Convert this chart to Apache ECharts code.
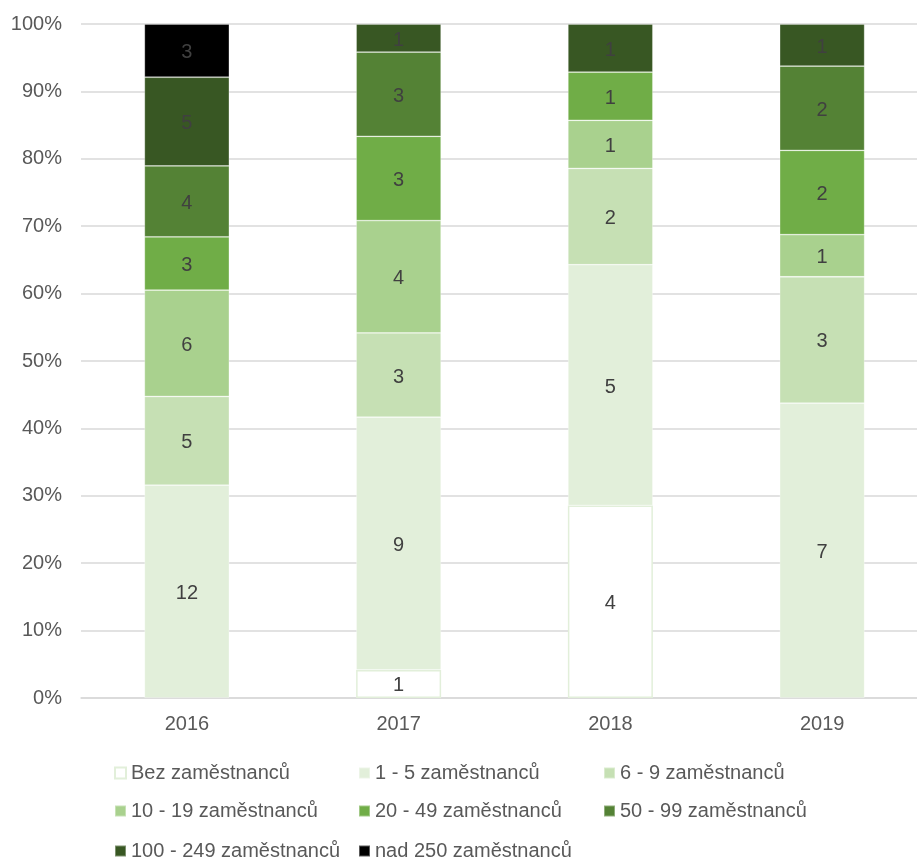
<!DOCTYPE html>
<html>
<head>
<meta charset="utf-8">
<style>
    html, body { margin: 0; padding: 0; background: #fff; }
    #main { width: 917px; height: 859px; }
</style>
</head>
<body>
<div id="main"></div>
<script src="https://cdn.jsdelivr.net/npm/echarts@6/dist/echarts.min.js"></script>
<script>
    var years = ['2016', '2017', '2018', '2019'];
    var groups = ['Bez zaměstnanců', '1 - 5 zaměstnanců', '6 - 9 zaměstnanců', '10 - 19 zaměstnanců',
        '20 - 49 zaměstnanců', '50 - 99 zaměstnanců', '100 - 249 zaměstnanců', 'nad 250 zaměstnanců'];
    var bez = [0, 1, 4, 0];
    var z1_5 = [12, 9, 5, 7];
    var z6_9 = [5, 3, 2, 3];
    var z10_19 = [6, 4, 1, 1];
    var z20_49 = [3, 3, 1, 2];
    var z50_99 = [4, 3, 0, 2];
    var z100_249 = [5, 1, 1, 1];
    var nad250 = [3, 0, 0, 0];
    var yTicks = [0, 10, 20, 30, 40, 50, 60, 70, 80, 90, 100];

    var counts = [bez, z1_5, z6_9, z10_19, z20_49, z50_99, z100_249, nad250];
    var colors = ['#ffffff', '#e2efda', '#c6e0b4', '#a9d18e', '#70ad47', '#548235', '#385723', '#000000'];

    // soucty za rok pro prepocet na procenta
    var totals = years.map(function (y, i) {
        var s = 0;
        counts.forEach(function (c) { s += c[i]; });
        return s;
    });

    var series = counts.map(function (c, k) {
        return {
            name: groups[k],
            type: 'bar',
            stack: 'all',
            barWidth: 85,
            itemStyle: {
                color: colors[k],
                borderColor: k === 0 ? '#e2efda' : 'rgba(255,255,255,0.35)',
                borderWidth: k === 0 ? 1.5 : 0.8
            },
            label: {
                show: true,
                position: 'inside',
                color: '#404040',
                fontSize: 20,
                fontFamily: 'Liberation Sans',
                offset: [0, 2],
                formatter: function (p) { return p.data.count ? p.data.count : ''; }
            },
            data: c.map(function (v, i) {
                return v ? { value: v / totals[i] * 100, count: v } : { value: '-', count: 0 };
            })
        };
    });

    // legenda ve sloupcich jako v Excelu
    var legendPos = [[114, 763], [358, 763], [603, 763], [114, 801], [358, 801], [603, 801], [114, 841], [358, 841]];
    var legends = groups.map(function (g, k) {
        return {
            left: legendPos[k][0],
            top: legendPos[k][1],
            data: [{
                name: g,
                itemStyle: k === 0 ? { color: '#fff', borderColor: '#e2efda', borderWidth: 2 } : undefined
            }],
            icon: 'rect',
            itemWidth: 11,
            itemHeight: 11,
            itemGap: 0,
            selectedMode: false,
            padding: 0,
            textStyle: { color: '#595959', fontSize: 20, fontFamily: 'Liberation Sans' }
        };
    });

    var myChart = echarts.init(document.getElementById('main'));
    myChart.setOption({
        animation: false,
        legend: legends,
        grid: {
            left: 81,
            top: 24,
            width: 847,
            height: 674,
            outerBoundsMode: 'none'
        },
        xAxis: {
            type: 'category',
            data: years,
            axisTick: { show: false },
            axisLine: { lineStyle: { color: '#d9d9d9', width: 1.5 } },
            axisLabel: { color: '#595959', fontSize: 20, fontFamily: 'Liberation Sans', margin: 16 }
        },
        yAxis: {
            type: 'value',
            min: yTicks[0],
            max: yTicks[yTicks.length - 1],
            interval: yTicks[1] - yTicks[0],
            axisLine: { show: false },
            axisTick: { show: false },
            splitLine: { lineStyle: { color: '#d9d9d9', width: 1.5 } },
            axisLabel: {
                color: '#595959', fontSize: 20, fontFamily: 'Liberation Sans', margin: 19,
                formatter: '{value}%'
            }
        },
        series: series
    });
</script>
</body>
</html>
